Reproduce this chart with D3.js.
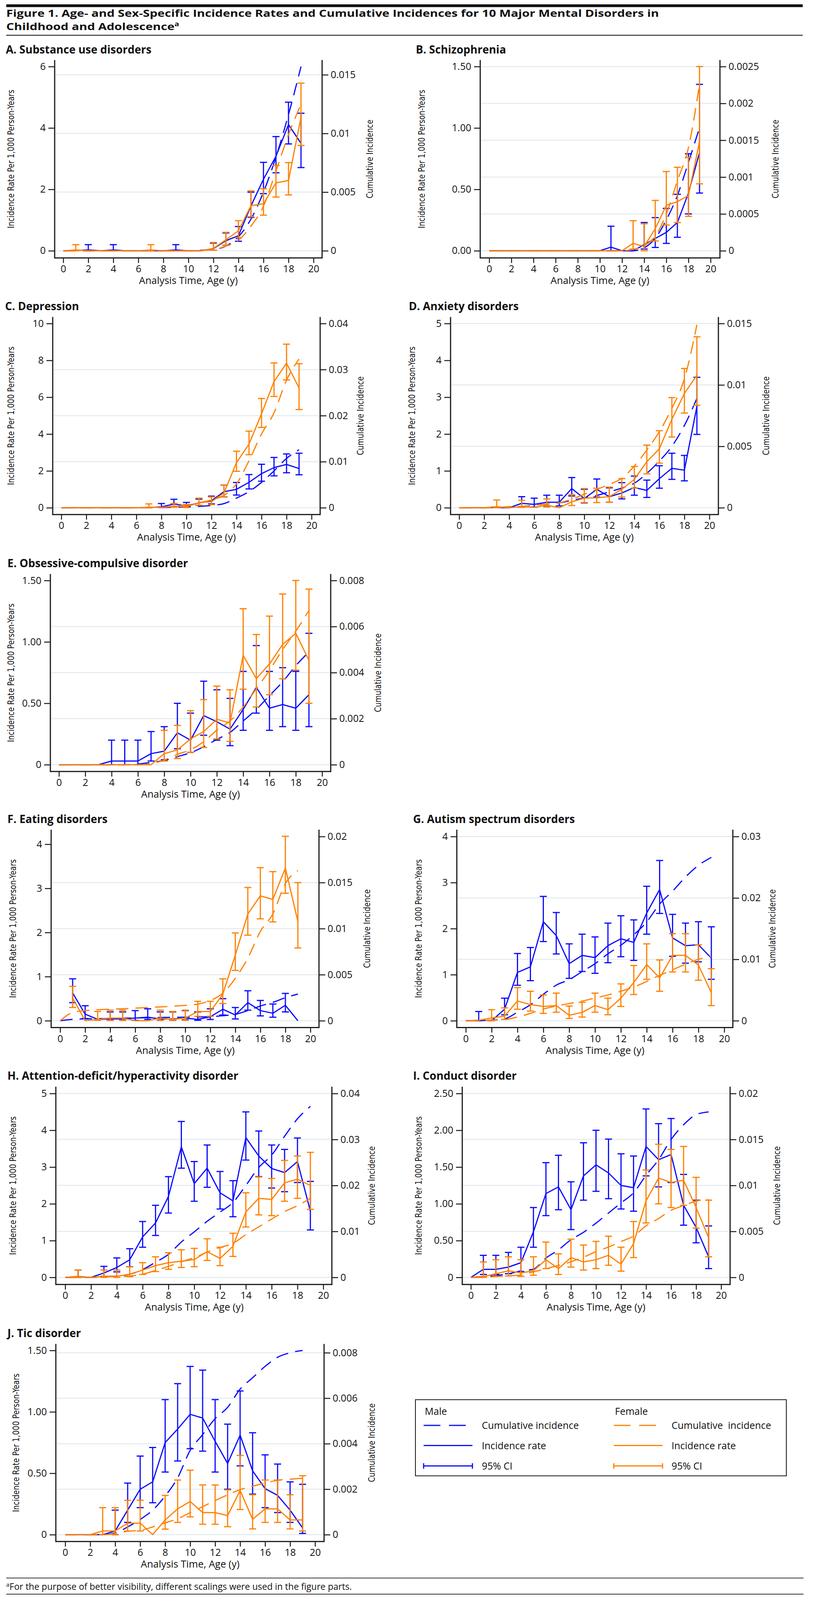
<!DOCTYPE html>
<html>
<head>
<meta charset="utf-8">
<script src="https://cdn.jsdelivr.net/npm/d3@7"></script>
<style>
  body { margin: 0; background: #fff; overflow: hidden; }
  text { font-family: "Open Sans", Lato, sans-serif; fill: #111; }
</style>
</head>
<body>
<div class="canvas"></div>
<script>
// Ages (x categories) and x tick labels
const ages = [0,1,2,3,4,5,6,7,8,9,10,11,12,13,14,15,16,17,18,19]
const xTicks = [0,2,4,6,8,10,12,14,16,18,20]

// A. Substance use disorders
const A_maleRate = [0,0.01,0.03,0,0.03,0,0,0,0,0.03,0,0,0.07,0.33,0.49,1.46,2.33,3.08,4.11,3.5]
const A_maleLo   = [null,null,0,null,0,null,null,null,null,0,null,null,0.02,0.18,0.31,1.09,1.86,2.54,3.48,2.71]
const A_maleHi   = [null,null,0.2,null,0.2,null,null,null,null,0.2,null,null,0.25,0.58,0.79,1.91,2.88,3.72,4.84,4.48]
const A_femRate  = [0,0.03,0,0,0,0,0,0.03,0,0,0,0,0.08,0.36,0.65,1.47,1.53,2.21,2.29,4.35]
const A_femLo    = [null,0,null,null,null,null,null,0,null,null,null,null,0.02,0.18,0.43,1.11,1.16,1.75,1.82,3.43]
const A_femHi    = [null,0.2,null,null,null,null,null,0.2,null,null,null,null,0.27,0.6,0.98,1.95,2.02,2.78,2.87,5.46]
const A_maleCum  = [0,0,0,0,0,0,0,0,0,0,0,0.00005,0.0001,0.0004,0.0012,0.0027,0.005,0.008,0.0116,0.0157]
const A_femCum   = [0,0,0,0,0,0,0,0,0,0,0,0.00003,0.0001,0.0004,0.0009,0.0021,0.0038,0.0068,0.0099,0.0125]
const A_leftTicks = [0,2,4,6]
const A_leftLabels = ['0','2','4','6']
const A_rightTicks = [0,0.005,0.01,0.015]

// B. Schizophrenia
const B_maleRate = [0,0,0,0,0,0,0,0,0,0,0,0.03,0,0,0.05,0.1,0.15,0.23,0.47,0.8]
const B_maleLo   = [null,null,null,null,null,null,null,null,null,null,null,0,null,null,0.014,0.027,0.06,0.11,0.3,0.47]
const B_maleHi   = [null,null,null,null,null,null,null,null,null,null,null,0.2,null,null,0.23,0.27,0.345,0.46,0.79,1.355]
const B_femRate  = [0,0,0,0,0,0,0,0,0,0,0,0,0,0.06,0.035,0.18,0.37,0.4,0.45,0.89]
const B_femLo    = [null,null,null,null,null,null,null,null,null,null,null,null,null,0.014,0,0.08,0.21,0.23,0.28,0.545]
const B_femHi    = [null,null,null,null,null,null,null,null,null,null,null,null,null,0.245,0.22,0.41,0.645,0.68,0.76,1.5]
const B_maleCum  = [0,0,0,0,0,0,0,0,0,0,0,0,0,0,0.00004,0.00017,0.00042,0.00075,0.0012,0.00167]
const B_femCum   = [0,0,0,0,0,0,0,0,0,0,0,0,0,0.00002,0.00007,0.0002,0.0005,0.00095,0.0014,0.00226]
const B_leftTicks = [0,0.5,1,1.5]
const B_leftLabels = ['0.00','0.50','1.00','1.50']
const B_rightTicks = [0,0.0005,0.001,0.0015,0.002,0.0025]

// C. Depression
const C_maleRate = [0,0,0,0,0,0,0,0.01,0.05,0.2,0.1,0.26,0.38,0.87,1.0,1.38,1.85,2.18,2.35,2.13]
const C_maleLo   = [null,null,null,null,null,null,null,null,0.02,0.06,0.03,0.13,0.21,0.59,0.69,1.02,1.44,1.73,1.9,1.79]
const C_maleHi   = [null,null,null,null,null,null,null,null,0.23,0.46,0.29,0.47,0.63,1.23,1.37,1.8,2.36,2.73,2.92,2.96]
const C_femRate  = [0,0,0,0,0,0,0,0.03,0.02,0.08,0.06,0.27,0.33,0.8,2.45,3.45,5.1,6.85,7.85,6.5]
const C_femLo    = [null,null,null,null,null,null,null,0,null,0.03,0.01,0.14,0.17,0.59,1.98,2.88,4.36,6.04,6.94,5.33]
const C_femHi    = [null,null,null,null,null,null,null,0.21,null,0.23,0.18,0.52,0.59,1.23,3.07,4.16,5.93,7.86,8.88,7.82]
const C_maleCum  = [0,0,0,0,0,0,0,0,0.00005,0.0001,0.0002,0.0003,0.0005,0.0009,0.0021,0.0035,0.0055,0.008,0.0107,0.0126]
const C_femCum   = [0,0,0,0,0,0,0,0,0.0001,0.0003,0.0006,0.0011,0.0017,0.0027,0.0052,0.0102,0.016,0.0206,0.0277,0.0323]
const C_leftTicks = [0,2,4,6,8,10]
const C_leftLabels = ['0','2','4','6','8','10']
const C_rightTicks = [0,0.01,0.02,0.03,0.04]

// D. Anxiety disorders
const D_maleRate = [0,0,0,0.01,0,0.12,0.09,0.15,0.15,0.52,0.25,0.5,0.3,0.4,0.55,0.47,0.79,1.07,1.02,2.75]
const D_maleLo   = [null,null,null,null,null,0.03,0.02,0.05,0.05,0.32,0.13,0.29,0.15,0.24,0.34,0.28,0.53,0.77,0.73,1.99]
const D_maleHi   = [null,null,null,null,null,0.3,0.26,0.34,0.34,0.82,0.5,0.78,0.54,0.68,0.86,0.75,1.14,1.48,1.42,3.54]
const D_femRate  = [0,0,0,0.03,0,0.03,0.01,0.07,0,0.16,0.26,0.27,0.3,0.5,0.77,1.25,1.6,2.4,3.1,3.6]
const D_femLo    = [null,null,null,0,null,0.01,null,0.02,null,0.06,0.14,0.14,0.15,0.29,0.53,0.92,1.21,1.92,2.57,2.78]
const D_femHi    = [null,null,null,0.21,null,0.2,null,0.24,null,0.36,0.52,0.53,0.56,0.79,1.12,1.7,2.09,2.99,3.78,4.64]
const D_maleCum  = [0,0,0,0,0,0.0001,0.0002,0.0003,0.0004,0.0006,0.0008,0.001,0.0013,0.0016,0.002,0.0028,0.0038,0.005,0.0067,0.0089]
const D_femCum   = [0,0,0,0,0.0001,0.0001,0.0002,0.0003,0.0004,0.0007,0.0011,0.0015,0.0019,0.0024,0.0034,0.0047,0.0062,0.0081,0.0105,0.0149]
const D_leftTicks = [0,1,2,3,4,5]
const D_leftLabels = ['0','1','2','3','4','5']
const D_rightTicks = [0,0.005,0.01,0.015]

// E. Obsessive-compulsive disorder
const E_maleRate = [0,0,0,0,0.03,0.03,0.03,0.09,0.11,0.26,0.2,0.4,0.35,0.29,0.45,0.63,0.46,0.49,0.46,0.57]
const E_maleLo   = [null,null,null,null,0,0,0,0.03,0.04,0.13,0.1,0.24,0.2,0.155,0.28,0.42,0.28,0.31,0.28,0.31]
const E_maleHi   = [null,null,null,null,0.2,0.2,0.2,0.27,0.31,0.5,0.42,0.68,0.61,0.54,0.76,0.97,0.76,0.79,0.76,1.07]
const E_femRate  = [0,0,0,0,0,0,0,0,0.09,0.12,0.21,0.27,0.37,0.34,0.89,0.7,0.82,0.98,1.07,0.85]
const E_femLo    = [null,null,null,null,null,null,null,null,0.03,0.05,0.1,0.14,0.21,0.19,0.615,0.47,0.57,0.7,0.77,0.5]
const E_femHi    = [null,null,null,null,null,null,null,null,0.28,0.32,0.44,0.53,0.64,0.61,1.27,1.06,1.21,1.39,1.5,1.43]
const E_maleCum  = [0,0,0,0,0,0,0.00003,0.0001,0.00018,0.00035,0.00052,0.00078,0.0011,0.0014,0.0019,0.0024,0.003,0.0036,0.0043,0.0049]
const E_femCum   = [0,0,0,0,0,0,0,0.00005,0.0002,0.00045,0.00065,0.001,0.0015,0.0019,0.0025,0.0033,0.0041,0.005,0.0058,0.0067]
const E_leftTicks = [0,0.5,1,1.5]
const E_leftLabels = ['0','0.50','1.00','1.50']
const E_rightTicks = [0,0.002,0.004,0.006,0.008]

// F. Eating disorders
const F_maleRate = [null,0.63,0.15,0.03,0.04,0.04,0.06,0.08,0.04,0.04,0.06,0.03,0.09,0.26,0.13,0.41,0.23,0.17,0.35,0]
const F_maleLo   = [null,0.41,0.05,null,0.01,0.01,0.01,0.03,0.01,0.01,0.02,0.01,0.03,0.13,0.04,0.24,0.11,0.08,0.2,null]
const F_maleHi   = [null,0.95,0.34,null,0.2,0.2,0.23,0.27,0.2,0.2,0.23,0.2,0.27,0.5,0.3,0.68,0.46,0.38,0.62,null]
const F_femRate  = [null,0.52,0,0.03,0.06,0.06,0,0,0.06,0.03,0.06,0.21,0.21,0.6,1.49,2.42,2.83,2.75,3.46,2.25]
const F_femLo    = [null,0.3,null,0.01,0.01,0.01,null,null,0.01,0.01,0.01,0.1,0.1,0.39,1.14,1.94,2.31,2.24,2.89,1.65]
const F_femHi    = [null,0.78,null,0.21,0.24,0.24,null,null,0.24,0.21,0.24,0.44,0.44,0.95,1.99,3.02,3.47,3.38,4.18,3.13]
const F_maleCum  = [0,0.00015,0.0002,0.00023,0.00026,0.00028,0.0003,0.00033,0.00035,0.00037,0.00039,0.00041,0.00044,0.00055,0.0007,0.0011,0.0016,0.002,0.0025,0.0029]
const F_femCum   = [0,0.0009,0.0011,0.0012,0.00125,0.0013,0.00137,0.00144,0.0015,0.00157,0.00167,0.0018,0.0022,0.003,0.0046,0.0068,0.0097,0.0116,0.0149,0.0163]
const F_leftTicks = [0,1,2,3,4]
const F_leftLabels = ['0','1','2','3','4']
const F_rightTicks = [0,0.005,0.01,0.015,0.02]

// G. Autism spectrum disorders
const G_maleRate = [0,0.01,0,0.25,1.05,1.17,2.15,1.85,1.24,1.42,1.37,1.63,1.78,1.7,2.34,2.85,1.8,1.63,1.65,1.36]
const G_maleLo   = [null,0,null,0.13,0.77,0.87,1.72,1.45,0.92,1.07,1.03,1.26,1.39,1.31,1.88,2.33,1.4,1.25,1.28,0.9]
const G_maleHi   = [null,0.2,null,0.49,1.46,1.59,2.7,2.35,1.67,1.88,1.82,2.12,2.28,2.19,2.92,3.48,2.31,2.12,2.15,2.04]
const G_femRate  = [0,0.01,0.06,0.1,0.43,0.35,0.31,0.33,0.12,0.18,0.33,0.24,0.49,0.83,1.22,0.93,1.42,1.42,1.21,0.61]
const G_femLo    = [null,null,0,0.03,0.25,0.21,0.16,0.185,0.05,0.08,0.185,0.13,0.31,0.57,0.9,0.64,1.06,1.06,0.88,0.33]
const G_femHi    = [null,null,0.24,0.28,0.72,0.64,0.56,0.6,0.32,0.4,0.6,0.49,0.8,1.2,1.67,1.32,1.89,1.89,1.65,1.13]
const G_maleCum  = [0,0,0.0001,0.0003,0.0014,0.0026,0.0043,0.0058,0.0067,0.008,0.0093,0.0109,0.0123,0.014,0.0161,0.019,0.0211,0.0234,0.0253,0.0266]
const G_femCum   = [0,0,0.0001,0.0002,0.0006,0.0012,0.0019,0.0024,0.0028,0.0032,0.0037,0.0042,0.0048,0.0055,0.0064,0.0074,0.0083,0.0092,0.01,0.0104]
const G_leftTicks = [0,1,2,3,4]
const G_leftLabels = ['0','1','2','3','4']
const G_rightTicks = [0,0.01,0.02,0.03]

// H. Attention-deficit/hyperactivity disorder
const H_maleRate = [0,0.02,0,0.12,0.27,0.48,1.1,1.48,2.2,3.55,2.55,2.97,2.3,2.08,3.8,3.3,2.96,2.85,3.15,1.8]
const H_maleLo   = [null,0,null,0.03,0.15,0.29,0.82,1.14,1.75,2.97,2.07,2.45,1.86,1.65,3.19,2.74,2.43,2.33,2.58,1.29]
const H_maleHi   = [null,0.2,null,0.3,0.53,0.78,1.52,1.96,2.74,4.24,3.15,3.6,2.88,2.63,4.5,3.98,3.6,3.48,3.79,2.61]
const H_femRate  = [0,0.03,0,0.03,0.03,0.085,0.2,0.32,0.4,0.44,0.485,0.7,0.515,0.845,1.78,2.15,2.12,2.57,2.67,2.5]
const H_femLo    = [null,0,null,0,0,0.02,0.08,0.16,0.22,0.27,0.29,0.46,0.32,0.57,1.37,1.7,1.68,2.07,2.15,1.85]
const H_femHi    = [null,0.2,null,0.2,0.2,0.29,0.4,0.56,0.67,0.75,0.79,1.05,0.82,1.2,2.3,2.73,2.69,3.18,3.3,3.4]
const H_maleCum  = [0,0,0,0.0002,0.0003,0.0007,0.0017,0.0033,0.005,0.0077,0.0099,0.0122,0.0142,0.0163,0.02,0.0239,0.0266,0.0307,0.0345,0.0372]
const H_femCum   = [0,0,0,0.0001,0.0002,0.0003,0.0007,0.0015,0.0024,0.0034,0.0043,0.0055,0.0065,0.0074,0.0093,0.011,0.0127,0.0143,0.0156,0.0172]
const H_leftTicks = [0,1,2,3,4,5]
const H_leftLabels = ['0','1','2','3','4','5']
const H_rightTicks = [0,0.01,0.02,0.03,0.04]

// I. Conduct disorder
const I_maleRate = [0,0.11,0.11,0.14,0.2,0.62,1.14,1.23,0.92,1.38,1.53,1.42,1.25,1.22,1.78,1.6,1.67,0.98,0.68,0.28]
const I_maleLo   = [null,0.04,0.04,0.05,0.08,0.41,0.84,0.92,0.65,1.05,1.17,1.07,0.93,0.9,1.38,1.23,1.29,0.71,0.47,0.12]
const I_maleHi   = [null,0.3,0.3,0.34,0.41,0.95,1.56,1.66,1.3,1.83,2.0,1.88,1.68,1.65,2.29,2.09,2.16,1.4,1.05,0.7]
const I_femRate  = [0,0.01,0.05,0.09,0.06,0.09,0.24,0.12,0.27,0.21,0.24,0.3,0.18,0.46,1.04,1.35,1.29,1.32,0.95,0.54]
const I_femLo    = [null,0,0.015,0.02,0.015,0.03,0.12,0.04,0.14,0.1,0.12,0.165,0.085,0.27,0.74,1.0,0.95,0.98,0.67,0.28]
const I_femHi    = [null,0.21,0.24,0.28,0.24,0.28,0.48,0.32,0.52,0.44,0.49,0.56,0.41,0.76,1.46,1.81,1.74,1.78,1.36,1.05]
const I_maleCum  = [0,0.0001,0.0002,0.0004,0.0007,0.0009,0.0021,0.003,0.0041,0.0049,0.0059,0.007,0.0081,0.0092,0.0111,0.0128,0.015,0.0166,0.0177,0.018]
const I_femCum   = [0,0,0.0001,0.00017,0.00026,0.0006,0.00094,0.0013,0.0017,0.0022,0.0028,0.0033,0.0039,0.0045,0.0056,0.0064,0.0073,0.0078,0.0083,0.0085]
const I_leftTicks = [0,0.5,1,1.5,2,2.5]
const I_leftLabels = ['0','0.50','1.00','1.50','2.00','2.50']
const I_rightTicks = [0,0.005,0.01,0.015,0.02]

// J. Tic disorder
const J_maleRate = [0,0,0,0,0.03,0.2,0.37,0.43,0.75,0.86,0.98,0.95,0.76,0.58,0.81,0.52,0.375,0.32,0.2,0.055]
const J_maleLo   = [null,null,null,null,0,0.1,0.22,0.26,0.51,0.6,0.7,0.68,0.51,0.37,0.56,0.33,0.22,0.18,0.1,0.01]
const J_maleHi   = [null,null,null,null,0.2,0.42,0.64,0.71,1.1,1.23,1.37,1.34,1.1,0.9,1.17,0.83,0.65,0.575,0.43,0.41]
const J_femRate  = [0,0,0,0.03,0.03,0.094,0.094,0,0.12,0.21,0.27,0.18,0.18,0.155,0.36,0.125,0.21,0.21,0.12,0.12]
const J_femLo    = [null,null,null,0,0,0.03,0.03,null,0.045,0.1,0.145,0.085,0.085,0.065,0.205,0.047,0.1,0.1,0.047,0.03]
const J_femHi    = [null,null,null,0.22,0.22,0.28,0.28,null,0.32,0.445,0.525,0.405,0.405,0.365,0.645,0.325,0.445,0.445,0.325,0.48]
const J_maleCum  = [0,0,0,0,0.00007,0.00034,0.00067,0.00108,0.0017,0.0025,0.0037,0.0044,0.0051,0.0056,0.0064,0.0069,0.0074,0.0078,0.008,0.0081]
const J_femCum   = [0,0,0,0,0.00004,0.00015,0.00019,0.00034,0.00052,0.0007,0.00097,0.00123,0.0015,0.00175,0.00198,0.00213,0.00227,0.00239,0.00244,0.00248]
const J_leftTicks = [0,0.5,1,1.5]
const J_leftLabels = ['0','0.50','1.00','1.50']
const J_rightTicks = [0,0.002,0.004,0.006,0.008]

// Colours
const maleColor = '#0a0aff'
const femColor = '#ff8000'
const gridColor = '#e6edf2'
const axisColor = '#1a1a1a'

// The window is only 4096 px tall, so the 5168 px tall layout is squeezed vertically
const W = 2090, REF_H = 5168
const H = Math.min(REF_H, window.innerHeight || REF_H)
const K = H / REF_H
const sy = v => v * K

const svg = d3.select('.canvas')
    .append('svg')
    .attr('width', W)
    .attr('height', H)

// Panel layouts in reference pixels (values come from the arrays above)
const panels = [
  {title: 'A. Substance use disorders', tx: 15, ty: 173, axL: 140, axR: 825, top: 194, bot: 833, x0: 162, x20: 803, zero: 810, yTop: 215, lMax: 6, rMax: 0.0157, lt: A_leftTicks, ll: A_leftLabels, rt: A_rightTicks, ytx: 28, rtx: 947, topGrid: true,
   m: [A_maleRate, A_maleLo, A_maleHi, A_maleCum], f: [A_femRate, A_femLo, A_femHi, A_femCum]},
  {title: 'B. Schizophrenia', tx: 1065, ty: 173, axL: 1230, axR: 1844, top: 194, bot: 833, x0: 1253, x20: 1820, zero: 810, yTop: 215, lMax: 1.5, rMax: 0.0025, lt: B_leftTicks, ll: B_leftLabels, rt: B_rightTicks, ytx: 1080, rtx: 1986, topGrid: true,
   m: [B_maleRate, B_maleLo, B_maleHi, B_maleCum], f: [B_femRate, B_femLo, B_femHi, B_femCum]},
  {title: 'C. Depression', tx: 13, ty: 1002, axL: 135, axR: 820, top: 1024, bot: 1662, x0: 157, x20: 798, zero: 1640, yTop: 1045, lMax: 10, rMax: 0.04, lt: C_leftTicks, ll: C_leftLabels, rt: C_rightTicks, ytx: 28, rtx: 923, topGrid: false,
   m: [C_maleRate, C_maleLo, C_maleHi, C_maleCum], f: [C_femRate, C_femLo, C_femHi, C_femCum]},
  {title: 'D. Anxiety disorders', tx: 1047, ty: 1002, axL: 1154, axR: 1840, top: 1024, bot: 1662, x0: 1176, x20: 1817, zero: 1640, yTop: 1045, lMax: 5, rMax: 0.015, lt: D_leftTicks, ll: D_leftLabels, rt: D_rightTicks, ytx: 1055, rtx: 1962, topGrid: true,
   m: [D_maleRate, D_maleLo, D_maleHi, D_maleCum], f: [D_femRate, D_femLo, D_femHi, D_femCum]},
  {title: 'E. Obsessive-compulsive disorder', tx: 19, ty: 1832, axL: 129, axR: 847, top: 1854, bot: 2492, x0: 151, x20: 825, zero: 2470, yTop: 1875, lMax: 1.5, rMax: 0.008, lt: E_leftTicks, ll: E_leftLabels, rt: E_rightTicks, ytx: 28, rtx: 968, topGrid: false,
   m: [E_maleRate, E_maleLo, E_maleHi, E_maleCum], f: [E_femRate, E_femLo, E_femHi, E_femCum]},
  {title: 'F. Eating disorders', tx: 19, ty: 2658, axL: 131, axR: 817, top: 2680, bot: 3319, x0: 154, x20: 795, zero: 3297, yTop: 2702, lMax: 4.175, rMax: 0.02, lt: F_leftTicks, ll: F_leftLabels, rt: F_rightTicks, ytx: 33, rtx: 940, topGrid: false,
   m: [F_maleRate, F_maleLo, F_maleHi, F_maleCum], f: [F_femRate, F_femLo, F_femHi, F_femCum]},
  {title: 'G. Autism spectrum disorders', tx: 1058, ty: 2658, axL: 1170, axR: 1877, top: 2680, bot: 3319, x0: 1193, x20: 1855, zero: 3297, yTop: 2702, lMax: 4, rMax: 0.03, lt: G_leftTicks, ll: G_leftLabels, rt: G_rightTicks, ytx: 1072, rtx: 1978, topGrid: true,
   m: [G_maleRate, G_maleLo, G_maleHi, G_maleCum], f: [G_femRate, G_femLo, G_femHi, G_femCum]},
  {title: 'H. Attention-deficit/hyperactivity disorder', tx: 19, ty: 3488, axL: 143, axR: 850, top: 3510, bot: 4149, x0: 167, x20: 828, zero: 4126, yTop: 3532, lMax: 5, rMax: 0.04, lt: H_leftTicks, ll: H_leftLabels, rt: H_rightTicks, ytx: 33, rtx: 952, topGrid: true,
   m: [H_maleRate, H_maleLo, H_maleHi, H_maleCum], f: [H_femRate, H_femLo, H_femHi, H_femCum]},
  {title: 'I. Conduct disorder', tx: 1058, ty: 3488, axL: 1184, axR: 1870, top: 3510, bot: 4149, x0: 1206, x20: 1847, zero: 4126, yTop: 3532, lMax: 2.5, rMax: 0.02, lt: I_leftTicks, ll: I_leftLabels, rt: I_rightTicks, ytx: 1072, rtx: 1990, topGrid: true,
   m: [I_maleRate, I_maleLo, I_maleHi, I_maleCum], f: [I_femRate, I_femLo, I_femHi, I_femCum]},
  {title: 'J. Tic disorder', tx: 19, ty: 4319, axL: 143, axR: 830, top: 4341, bot: 4979, x0: 167, x20: 807, zero: 4957, yTop: 4362, lMax: 1.5, rMax: 0.0081, lt: J_leftTicks, ll: J_leftLabels, rt: J_rightTicks, ytx: 41, rtx: 952, topGrid: true,
   m: [J_maleRate, J_maleLo, J_maleHi, J_maleCum], f: [J_femRate, J_femLo, J_femHi, J_femCum]}
]

// Figure heading (text squeezed vertically like the rest of the layout)
svg.append('rect').attr('x', 16).attr('y', sy(14)).attr('width', 2040).attr('height', sy(9)).attr('fill', '#111')
svg.append('text').attr('transform', `translate(16, ${sy(54)}) scale(1, ${K})`)
    .style('font-weight', 700).style('font-size', '31.5px')
    .text('Figure 1. Age- and Sex-Specific Incidence Rates and Cumulative Incidences for 10 Major Mental Disorders in')
const t2 = svg.append('text').attr('transform', `translate(16, ${sy(97)}) scale(1, ${K})`)
    .style('font-weight', 700).style('font-size', '31.5px')
t2.append('tspan').text('Childhood and Adolescence')
t2.append('tspan').attr('dy', -12).style('font-size', '20px').text('a')
svg.append('line').attr('x1', 16).attr('x2', 2056).attr('y1', sy(114)).attr('y2', sy(114))
    .attr('stroke', '#333').attr('stroke-width', 2.5)

function drawPanel(p) {
  const g = svg.append('g')
  const x = d3.scaleLinear().domain([0, 20]).range([p.x0, p.x20])
  const yL = d3.scaleLinear().domain([0, p.lMax]).range([sy(p.zero), sy(p.yTop)])
  const yR = d3.scaleLinear().domain([0, p.rMax]).range([sy(p.zero), sy(p.yTop)])
  const top = sy(p.top), bot = sy(p.bot), mid = (top + bot) / 2

  // panel title
  g.append('text').attr('x', p.tx).attr('y', sy(p.ty))
      .style('font-weight', 700).style('font-size', '28px')
      .text(p.title)

  // grid lines at right-axis ticks
  g.selectAll('.grid').data(p.rt.filter((d, i) => p.topGrid || i < p.rt.length - 1))
    .enter().append('line')
      .attr('x1', p.axL + 2).attr('x2', p.axR - 2)
      .attr('y1', d => yR(d)).attr('y2', d => yR(d))
      .attr('stroke', gridColor).attr('stroke-width', 3)

  // axes
  const xAxis = d3.axisBottom(x).tickValues(xTicks).tickSize(13).tickFormat(d => d)
  const gx = g.append('g').attr('transform', `translate(0, ${bot})`).call(xAxis)
  const lAxis = d3.axisLeft(yL).tickValues(p.lt).tickSize(16).tickPadding(7).tickFormat((d, i) => p.ll[i])
  const gl = g.append('g').attr('transform', `translate(${p.axL}, 0)`).call(lAxis)
  const rAxis = d3.axisRight(yR).tickValues(p.rt).tickSize(16).tickPadding(6).tickFormat(d => String(d))
  const gr = g.append('g').attr('transform', `translate(${p.axR}, 0)`).call(rAxis)
  ;[gx, gl, gr].forEach(a => {
    a.select('.domain').remove()
    a.selectAll('line').attr('stroke', axisColor).attr('stroke-width', 2.5)
    a.selectAll('text').style('font-family', '"Open Sans", sans-serif').style('font-size', '25px').attr('fill', '#111')
  })
  gx.selectAll('text').attr('y', 37).attr('dy', 0)

  // frame lines (left, right, bottom)
  g.append('line').attr('x1', p.axL).attr('x2', p.axL).attr('y1', top).attr('y2', bot + 1.5)
      .attr('stroke', axisColor).attr('stroke-width', 3)
  g.append('line').attr('x1', p.axR).attr('x2', p.axR).attr('y1', top).attr('y2', bot + 1.5)
      .attr('stroke', axisColor).attr('stroke-width', 3)
  g.append('line').attr('x1', p.axL).attr('x2', p.axR).attr('y1', bot).attr('y2', bot)
      .attr('stroke', axisColor).attr('stroke-width', 3)

  // axis titles
  g.append('text').attr('x', (p.x0 + p.x20) / 2).attr('y', bot + 67)
      .attr('text-anchor', 'middle').style('font-size', '25.5px')
      .text('Analysis Time, Age (y)')
  g.append('text')
      .attr('transform', `translate(${p.ytx}, ${mid}) rotate(-90) scale(${K}, 1)`)
      .attr('text-anchor', 'middle').attr('dominant-baseline', 'central')
      .style('font-family', '"DejaVu Sans", Verdana, sans-serif').style('font-size', '23.5px')
      .text('Incidence Rate Per 1,000 Person-Years')
  g.append('text')
      .attr('transform', `translate(${p.rtx}, ${mid}) rotate(-90) scale(${K}, 1)`)
      .attr('text-anchor', 'middle').attr('dominant-baseline', 'central')
      .style('font-family', '"DejaVu Sans", Verdana, sans-serif').style('font-size', '23.5px')
      .text('Cumulative Incidence')

  // series: male first, female drawn on top
  const series = [[p.m, maleColor], [p.f, femColor]]
  series.forEach(([s, color]) => {
    const [rate, lo, hi, cum] = s
    const cumLine = d3.line()
        .x((d, i) => x(ages[i]))
        .y(d => yR(d))
        .curve(d3.curveMonotoneX)
    g.append('path').datum(cum)
        .attr('d', cumLine)
        .attr('fill', 'none').attr('stroke', color).attr('stroke-width', 3)
        .attr('stroke-dasharray', '32 18')

    const rateLine = d3.line()
        .defined(d => d != null)
        .x((d, i) => x(ages[i]))
        .y(d => yL(d))
    g.append('path').datum(rate)
        .attr('d', rateLine)
        .attr('fill', 'none').attr('stroke', color).attr('stroke-width', 3)
        .attr('stroke-linejoin', 'round')

    const ci = ages.map((a, i) => ({a: a, lo: lo[i], hi: hi[i]})).filter(d => d.lo != null && d.hi != null)
    const cg = g.append('g').attr('stroke', color).attr('stroke-width', 3)
    cg.selectAll('.bar').data(ci).enter().append('line')
        .attr('x1', d => x(d.a)).attr('x2', d => x(d.a))
        .attr('y1', d => yL(d.lo)).attr('y2', d => yL(d.hi))
    cg.selectAll('.capl').data(ci).enter().append('line')
        .attr('x1', d => x(d.a) - 9).attr('x2', d => x(d.a) + 9)
        .attr('y1', d => yL(d.lo)).attr('y2', d => yL(d.lo))
    cg.selectAll('.caph').data(ci).enter().append('line')
        .attr('x1', d => x(d.a) - 9).attr('x2', d => x(d.a) + 9)
        .attr('y1', d => yL(d.hi)).attr('y2', d => yL(d.hi))
  })
}

panels.forEach(drawPanel)

// Legend
const leg = svg.append('g')
leg.append('rect').attr('x', 1064).attr('y', sy(4521)).attr('width', 950).attr('height', sy(246))
    .attr('fill', 'none').attr('stroke', '#111').attr('stroke-width', 2)
const legCols = [
  {head: 'Male', x: 1085, tx: 1234, color: maleColor, cum: 'Cumulative incidence'},
  {head: 'Female', x: 1572, tx: 1720, color: femColor, cum: 'Cumulative  incidence'}
]
const rowY = [4604, 4669, 4735].map(sy)
legCols.forEach(c => {
  leg.append('text').attr('x', c.x + 3).attr('y', sy(4570)).style('font-size', '25px').text(c.head)
  leg.append('line').attr('x1', c.x).attr('x2', c.x + 125).attr('y1', rowY[0]).attr('y2', rowY[0])
      .attr('stroke', c.color).attr('stroke-width', 3).attr('stroke-dasharray', '43 22')
  leg.append('line').attr('x1', c.x).attr('x2', c.x + 125).attr('y1', rowY[1]).attr('y2', rowY[1])
      .attr('stroke', c.color).attr('stroke-width', 3)
  leg.append('line').attr('x1', c.x).attr('x2', c.x + 125).attr('y1', rowY[2]).attr('y2', rowY[2])
      .attr('stroke', c.color).attr('stroke-width', 3)
  leg.append('line').attr('x1', c.x).attr('x2', c.x).attr('y1', rowY[2] - 7).attr('y2', rowY[2] + 7)
      .attr('stroke', c.color).attr('stroke-width', 3)
  leg.append('line').attr('x1', c.x + 125).attr('x2', c.x + 125).attr('y1', rowY[2] - 7).attr('y2', rowY[2] + 7)
      .attr('stroke', c.color).attr('stroke-width', 3)
  const labels = [c.cum, 'Incidence rate', '95% CI']
  labels.forEach((t, i) => {
    leg.append('text').attr('x', c.tx).attr('y', rowY[i] + 9)
        .style('font-size', '25px').style('white-space', 'pre')
        .text(t)
  })
})

// Footnote
svg.append('line').attr('x1', 16).attr('x2', 2058).attr('y1', sy(5097)).attr('y2', sy(5097))
    .attr('stroke', '#333').attr('stroke-width', 2)
svg.append('line').attr('x1', 16).attr('x2', 2058).attr('y1', sy(5149)).attr('y2', sy(5149))
    .attr('stroke', '#333').attr('stroke-width', 2)
const fn = svg.append('text').attr('x', 16).attr('y', sy(5135)).style('font-size', '23px')
fn.append('tspan').attr('dy', -8).style('font-size', '15px').text('a')
fn.append('tspan').attr('dy', 8).text('For the purpose of better visibility, different scalings were used in the figure parts.')
</script>
</body>
</html>
